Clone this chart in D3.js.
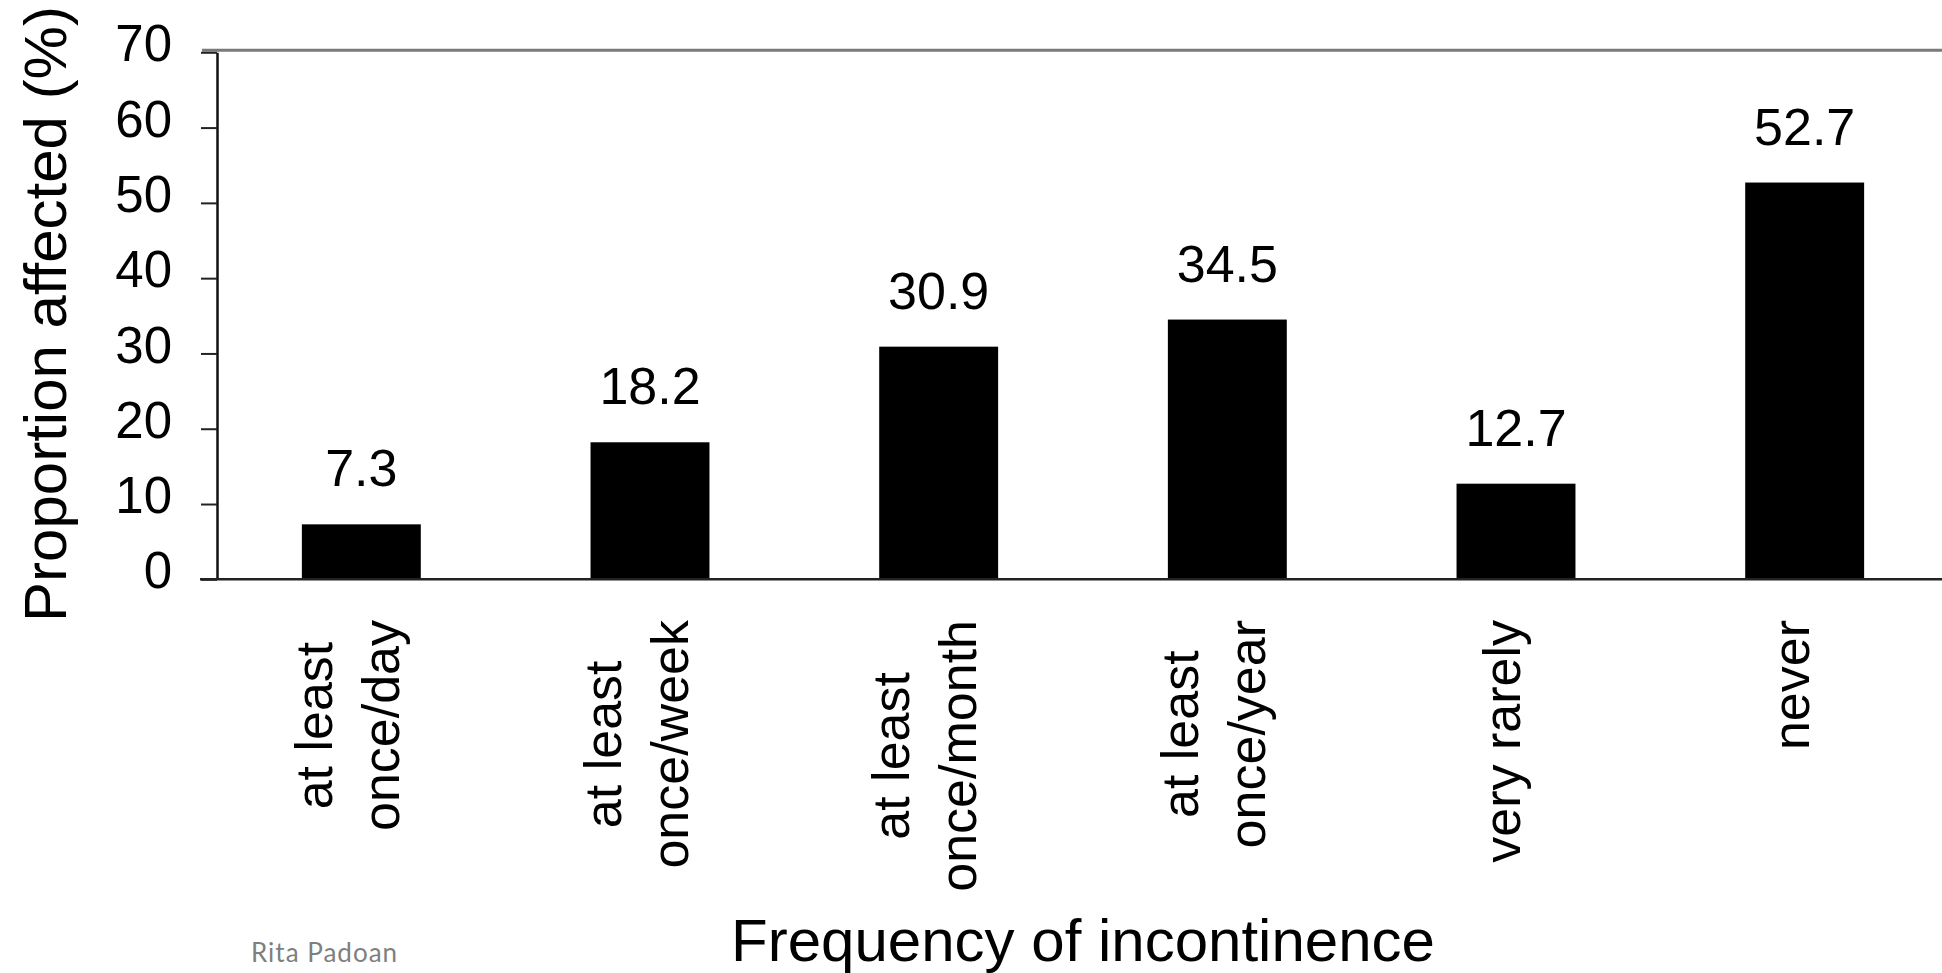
<!DOCTYPE html>
<html>
<head>
<meta charset="utf-8">
<script src="https://cdn.jsdelivr.net/npm/d3@7"></script>
<style>
  html, body { margin: 0; padding: 0; background: #fff; overflow: hidden; }
  svg { display: block; }
</style>
</head>
<body>
<svg id="chart" width="1942" height="973"></svg>
<script>
// ---- data ----
const categoryLines = [
  ["at least", "once/day"],
  ["at least", "once/week"],
  ["at least", "once/month"],
  ["at least", "once/year"],
  ["very rarely"],
  ["never"]
];
const categories = categoryLines.map(l => l.join(" "));
const values = [7.3, 18.2, 30.9, 34.5, 12.7, 52.7];
const valueLabels = ["7.3", "18.2", "30.9", "34.5", "12.7", "52.7"];
const yTicks = [0, 10, 20, 30, 40, 50, 60, 70];
const yTitle = "Proportion affected (%)";
const xTitle = "Frequency of incontinence";
const credit = "Rita Padoan";

// ---- layout ----
const W = 1942, H = 973;
const FONT = "'Liberation Sans', Arial, Helvetica, sans-serif";
const x0 = 217, x1 = 1949;
const yBottom = 579.3, yTop = 52.3;

const svg = d3.select("#chart");

const x = d3.scaleBand()
  .domain(categories)
  .range([x0, x1])
  .paddingInner(0.588)
  .paddingOuter(0.294);

const y = d3.scaleLinear().domain([0, 70]).range([yBottom, yTop]);

// top frame line at 70
svg.append("line")
  .attr("x1", 202).attr("x2", W)
  .attr("y1", y(70) - 2).attr("y2", y(70) - 2)
  .attr("stroke", "#7a7a7a").attr("stroke-width", 3);

// bars
svg.append("g").selectAll("rect")
  .data(values)
  .join("rect")
  .attr("x", (d, i) => x(categories[i]))
  .attr("width", x.bandwidth())
  .attr("y", d => y(d))
  .attr("height", d => yBottom - y(d))
  .attr("fill", "#000");

// value labels
svg.append("g").selectAll("text")
  .data(values)
  .join("text")
  .attr("x", (d, i) => x(categories[i]) + x.bandwidth() / 2)
  .attr("y", d => y(d) - 38)
  .attr("text-anchor", "middle")
  .attr("font-family", FONT)
  .attr("font-size", 52)
  .attr("fill", "#000")
  .text((d, i) => valueLabels[i]);

// y axis
const yAxis = d3.axisLeft(y)
  .tickValues(yTicks)
  .tickSize(16)
  .tickSizeOuter(0)
  .tickPadding(29)
  .tickFormat(d3.format("d"));

const gy = svg.append("g")
  .attr("transform", `translate(${x0},0)`)
  .call(yAxis);
gy.select(".domain").attr("stroke", "#111").attr("stroke-width", 2.5);
gy.selectAll(".tick line").attr("stroke", "#222").attr("stroke-width", 2);
gy.selectAll(".tick text")
  .attr("font-family", FONT)
  .attr("font-size", 51)
  .attr("fill", "#000")
  .attr("dy", "0.17em");

// x axis (baseline line + category labels)
const xAxis = d3.axisBottom(x).tickSize(0).tickSizeOuter(0).tickFormat("");
const gx = svg.append("g")
  .attr("transform", `translate(0,${yBottom})`)
  .call(xAxis);
gx.select(".domain").remove();
gx.insert("line", ":first-child")
  .attr("x1", 200).attr("x2", W)
  .attr("y1", 0).attr("y2", 0)
  .attr("stroke", "#222").attr("stroke-width", 2.5);

const lineStep = 67;
const labelTop = 620 - yBottom;
gx.selectAll(".tick").each(function(cat, ci) {
  const g = d3.select(this);
  g.select("text").remove();
  const lines = categoryLines[ci];
  const n = lines.length;
  const texts = lines.map((ln, i) => g.append("text")
    .attr("font-family", FONT)
    .attr("font-size", 52)
    .attr("fill", "#000")
    .attr("text-anchor", "middle")
    .text(ln));
  const maxLen = d3.max(texts, t => t.node().getComputedTextLength());
  texts.forEach((t, i) => {
    const bx = 4 + (i - (n - 1) / 2) * lineStep;
    const cy = labelTop + maxLen / 2;
    t.attr("transform", `translate(${bx},${cy}) rotate(-90)`);
  });
});

// axis titles
svg.append("text")
  .attr("transform", `translate(66,314) rotate(-90)`)
  .attr("text-anchor", "middle")
  .attr("font-family", FONT)
  .attr("font-size", 60)
  .attr("fill", "#000")
  .text(yTitle);

svg.append("text")
  .attr("x", 1083)
  .attr("y", 961)
  .attr("text-anchor", "middle")
  .attr("font-family", FONT)
  .attr("font-size", 60)
  .attr("fill", "#000")
  .text(xTitle);

// credit
svg.append("text")
  .attr("x", 251)
  .attr("y", 962)
  .attr("font-family", "Lato, 'Open Sans', sans-serif")
  .attr("font-size", 26)
  .attr("letter-spacing", 1)
  .attr("fill", "#7f7f7f")
  .text(credit);
</script>
</body>
</html>
